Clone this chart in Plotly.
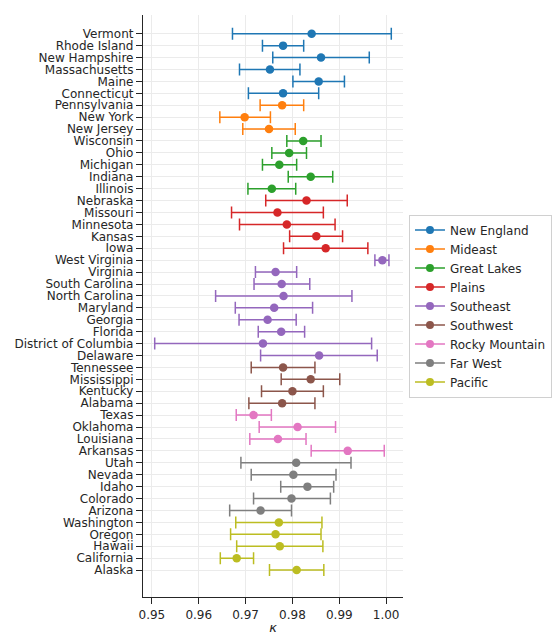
import plotly.graph_objects as go

# Regions, in display order (top to bottom)
regions = ["New England", "Mideast", "Great Lakes", "Plains", "Southeast",
           "Southwest", "Rocky Mountain", "Far West", "Pacific"]
region_colors = ["#1f77b4", "#ff7f0e", "#2ca02c", "#d62728", "#9467bd",
                 "#8c564b", "#e377c2", "#7f7f7f", "#bcbd22"]

states = {
    "New England": ["Vermont", "Rhode Island", "New Hampshire", "Massachusetts", "Maine", "Connecticut"],
    "Mideast": ["Pennsylvania", "New York", "New Jersey"],
    "Great Lakes": ["Wisconsin", "Ohio", "Michigan", "Indiana", "Illinois"],
    "Plains": ["Nebraska", "Missouri", "Minnesota", "Kansas", "Iowa"],
    "Southeast": ["West Virginia", "Virginia", "South Carolina", "North Carolina", "Maryland",
                  "Georgia", "Florida", "District of Columbia", "Delaware"],
    "Southwest": ["Tennessee", "Mississippi", "Kentucky", "Alabama"],
    "Rocky Mountain": ["Texas", "Oklahoma", "Louisiana", "Arkansas"],
    "Far West": ["Utah", "Nevada", "Idaho", "Colorado", "Arizona"],
    "Pacific": ["Washington", "Oregon", "Hawaii", "California", "Alaska"],
}

# Point estimates of kappa
kappa = {
    "New England": [0.9841, 0.9780, 0.9861, 0.9752, 0.9856, 0.9780],
    "Mideast": [0.9778, 0.9698, 0.9750],
    "Great Lakes": [0.9823, 0.9793, 0.9772, 0.9839, 0.9756],
    "Plains": [0.9830, 0.9768, 0.9788, 0.9851, 0.9871],
    "Southeast": [0.9992, 0.9764, 0.9777, 0.9781, 0.9761, 0.9747, 0.9776, 0.9737, 0.9857],
    "Southwest": [0.9780, 0.9839, 0.9800, 0.9778],
    "Rocky Mountain": [0.9717, 0.9811, 0.9769, 0.9918],
    "Far West": [0.9808, 0.9802, 0.9832, 0.9798, 0.9732],
    "Pacific": [0.9771, 0.9764, 0.9773, 0.9681, 0.9809],
}

# Lower and upper interval bounds
kappa_low = {
    "New England": [0.9672, 0.9736, 0.9758, 0.9687, 0.9801, 0.9706],
    "Mideast": [0.9731, 0.9645, 0.9694],
    "Great Lakes": [0.9788, 0.9756, 0.9736, 0.9791, 0.9705],
    "Plains": [0.9743, 0.9670, 0.9687, 0.9794, 0.9781],
    "Southeast": [0.9976, 0.9721, 0.9718, 0.9636, 0.9678, 0.9686, 0.9727, 0.9506, 0.9732],
    "Southwest": [0.9712, 0.9776, 0.9734, 0.9707],
    "Rocky Mountain": [0.9680, 0.9729, 0.9709, 0.9840],
    "Far West": [0.9690, 0.9712, 0.9775, 0.9717, 0.9666],
    "Pacific": [0.9679, 0.9668, 0.9681, 0.9646, 0.9751],
}
kappa_high = {
    "New England": [1.0011, 0.9824, 0.9964, 0.9816, 0.9911, 0.9856],
    "Mideast": [0.9824, 0.9753, 0.9806],
    "Great Lakes": [0.9861, 0.9830, 0.9809, 0.9886, 0.9807],
    "Plains": [0.9917, 0.9866, 0.9891, 0.9907, 0.9961],
    "Southeast": [1.0006, 0.9809, 0.9837, 0.9927, 0.9843, 0.9808, 0.9826, 0.9969, 0.9981],
    "Southwest": [0.9848, 0.9901, 0.9866, 0.9848],
    "Rocky Mountain": [0.9755, 0.9892, 0.9829, 0.9996],
    "Far West": [0.9925, 0.9893, 0.9888, 0.9881, 0.9798],
    "Pacific": [0.9863, 0.9861, 0.9865, 0.9717, 0.9867],
}

x_ticks = [0.95, 0.96, 0.97, 0.98, 0.99, 1.00]

FONT = "DejaVu Sans"
INK = "#262626"

fig = go.Figure()
all_states = []
for region, color in zip(regions, region_colors):
    names = states[region]
    vals = kappa[region]
    lo = kappa_low[region]
    hi = kappa_high[region]
    all_states += names
    fig.add_trace(go.Scatter(
        x=vals, y=names, mode="markers",
        marker=dict(color=color, size=8.5),
        error_x=dict(type="data", symmetric=False,
                     array=[h - v for h, v in zip(hi, vals)],
                     arrayminus=[v - l for v, l in zip(vals, lo)],
                     color=color, thickness=1.5, width=6),
        showlegend=False, hoverinfo="x+y",
    ))
    # legend entry: line with dot
    fig.add_trace(go.Scatter(
        x=[None], y=[None], mode="lines+markers", name=region,
        line=dict(color=color, width=1.5),
        marker=dict(color=color, size=8),
        showlegend=True,
    ))

n = len(all_states)
fig.update_layout(
    width=552, height=635,
    margin=dict(l=143, r=149, t=15, b=38, autoexpand=False),
    plot_bgcolor="white", paper_bgcolor="white",
    font=dict(family=FONT, size=12, color=INK),
    legend=dict(x=1.023, y=0.5, xanchor="left", yanchor="middle",
                bordercolor="#d0d0d0", borderwidth=1, bgcolor="white",
                font=dict(family=FONT, size=12, color=INK),
                tracegroupgap=0, itemwidth=30),
    showlegend=True,
)
fig.update_xaxes(
    range=[0.9481, 1.0036], tickvals=x_ticks, tickformat=".2f",
    showgrid=True, gridcolor="#ebebeb", gridwidth=1,
    showline=True, linecolor=INK, linewidth=1.25,
    ticks="outside", ticklen=6, tickwidth=1.25, tickcolor=INK,
    zeroline=False, mirror=False, automargin=False,
    title=dict(text="<i>κ</i>", font=dict(family=FONT, size=13, color=INK), standoff=6),
)
fig.update_yaxes(
    type="category", categoryorder="array", categoryarray=all_states,
    tickmode="array", tickvals=all_states, ticktext=all_states,
    range=[n - 1 + 2.26, -1.57],
    showgrid=True, gridcolor="#ebebeb", gridwidth=1,
    showline=True, linecolor=INK, linewidth=1.25,
    ticks="outside", ticklen=6, tickwidth=1.25, tickcolor=INK,
    zeroline=False, automargin=False,
)

fig.write_html("out.html")
